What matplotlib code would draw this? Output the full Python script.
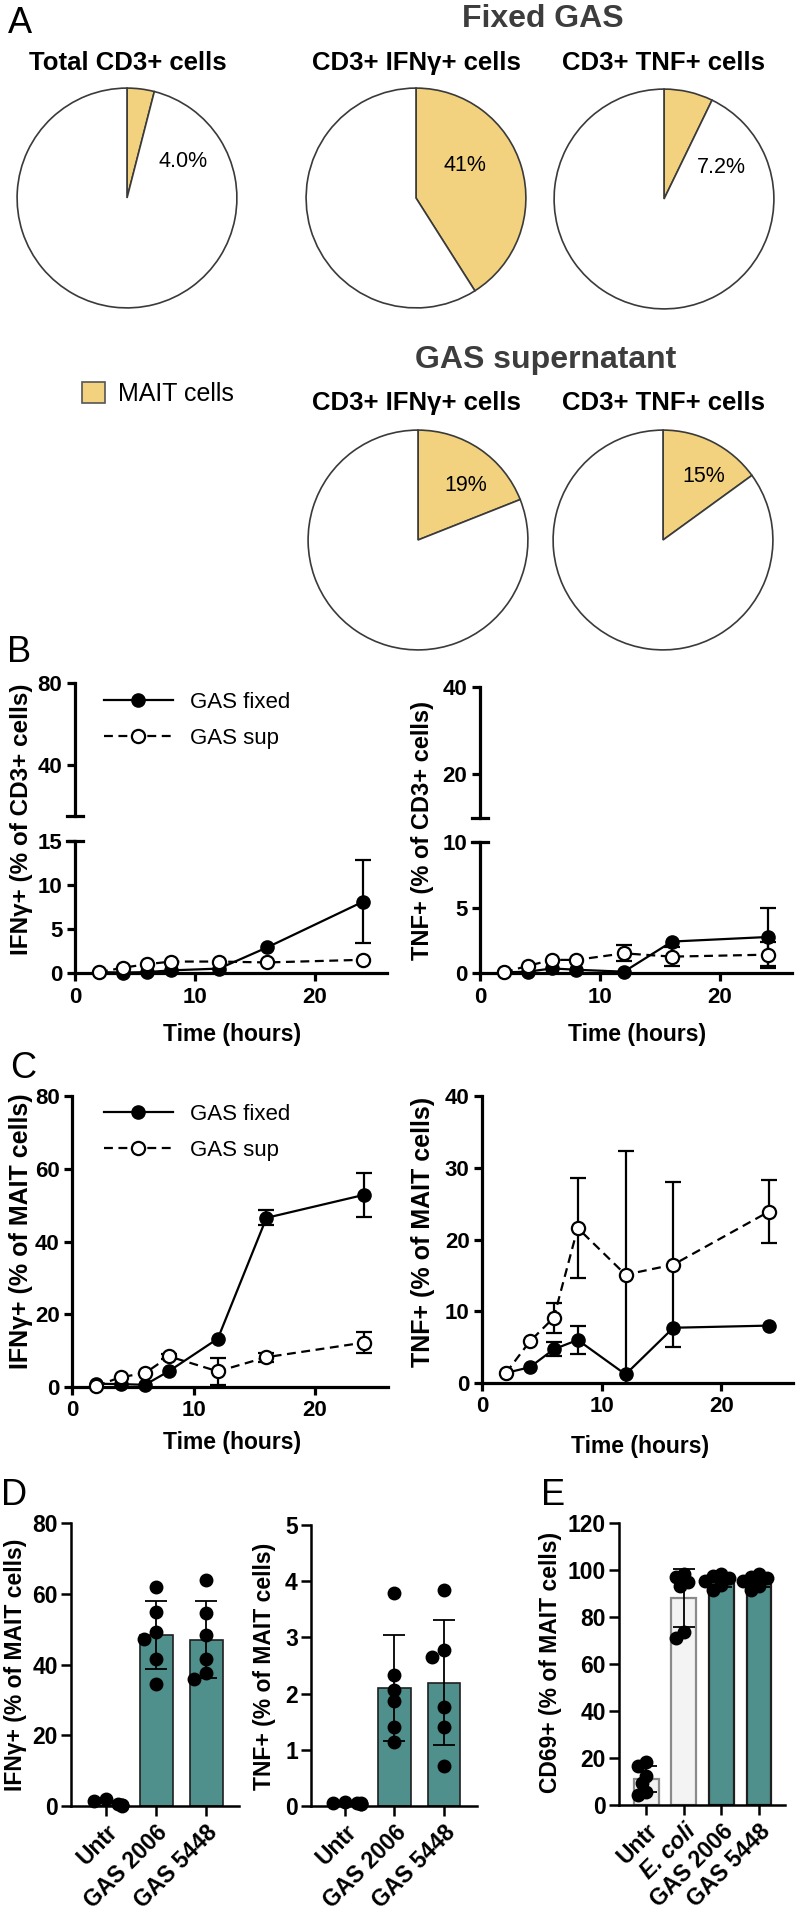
import numpy as np
import matplotlib
matplotlib.use('Agg')
import matplotlib.pyplot as plt
from matplotlib.patches import Patch

W, H = 796, 1912

plt.rcParams['font.family'] = ['Liberation Sans', 'DejaVu Sans']
plt.rcParams['font.weight'] = 'bold'
plt.rcParams['axes.labelweight'] = 'bold'

# ---------------- data ----------------
# A: share of MAIT cells among CD3+ populations
pie_titles = ['Total CD3+ cells', 'CD3+ IFNγ+ cells', 'CD3+ TNF+ cells',
              'CD3+ IFNγ+ cells', 'CD3+ TNF+ cells']
mait_pct = [4.0, 41, 7.2, 19, 15]
mait_lbl = ['4.0%', '41%', '7.2%', '19%', '15%']

# B / C: time course (hours)
hours = [2, 4, 6, 8, 12, 16, 24]

b_ifn_fixed = [0.1, 0.05, 0.1, 0.3, 0.5, 2.9, 8.1]
b_ifn_fixed_err = [0, 0, 0, 0, 0, 0, 4.7]
b_ifn_sup = [0.1, 0.6, 1.0, 1.3, 1.3, 1.2, 1.5]
b_ifn_sup_err = [0, 0, 0, 0, 0, 0, 0]

b_tnf_fixed = [0.05, 0.1, 0.35, 0.25, 0.1, 2.4, 2.75]
b_tnf_fixed_err = [0, 0, 0, 0, 0, 0, 2.25]
b_tnf_sup = [0.05, 0.55, 1.0, 1.0, 1.5, 1.25, 1.4]
b_tnf_sup_err = [0, 0, 0, 0, 0.6, 0.7, 1.0]

c_ifn_fixed = [0.9, 0.8, 0.6, 4.4, 13.3, 46.5, 52.8]
c_ifn_fixed_err = [0, 0, 0, 0, 0, 2.1, 6.0]
c_ifn_sup = [0.3, 2.7, 3.8, 8.4, 4.3, 8.2, 12.2]
c_ifn_sup_err = [0, 0, 0, 0.8, 3.7, 1.2, 2.9]

c_tnf_fixed = [1.4, 2.2, 4.7, 6.0, 1.2, 7.7, 8.0]
c_tnf_fixed_err = [0, 0, 1.0, 2.0, 0, 0, 0]
c_tnf_sup = [1.4, 5.8, 9.1, 21.6, 15.1, 16.5, 23.9]
c_tnf_sup_err = [0, 0, 2.1, 7.0, 17.3, 11.5, 4.4]

# D / E: individual donors
d_groups = ['Untr', 'GAS 2006', 'GAS 5448']
d_ifn = [[2.0, 1.4, 0.6, 0.3, 0.2, 0.1],
         [61.9, 54.8, 49.3, 47.2, 41.6, 34.6],
         [63.9, 54.6, 48.4, 41.6, 37.5, 35.9]]
d_tnf = [[0.07, 0.06, 0.05, 0.05, 0.04, 0.03],
         [3.79, 2.33, 2.07, 1.87, 1.41, 1.13],
         [3.85, 2.77, 2.66, 1.77, 1.41, 0.72]]

e_groups = ['Untr', 'E. coli', 'GAS 2006', 'GAS 5448']
e_cd69 = [[18.2, 16.5, 12.5, 9.5, 5.5, 4.2],
          [98.2, 97.2, 95.0, 93.0, 73.8, 70.9],
          [98.5, 97.5, 96.5, 95.5, 93.5, 91.5],
          [98.5, 97.0, 96.5, 95.5, 93.0, 91.5]]

yellow = '#F2D27F'
teal = '#4F8F8C'

fig = plt.figure(figsize=(W / 100, H / 100), dpi=100)


def px_axes(x0, y0, x1, y1):
    # axes from pixel box (top-left origin)
    ax = fig.add_axes([x0 / W, 1 - y1 / H, (x1 - x0) / W, (y1 - y0) / H])
    ax.patch.set_alpha(0)
    return ax


def ftext(x, y, s, **kw):
    return fig.text(x / W, 1 - y / H, s, **kw)


# ---------------- A: pies ----------------
pie_centres = [(127, 198), (416, 198), (664, 199), (418, 540), (663, 540)]
lbl_pos = [(183, 167), (465, 171), (721, 173), (466, 491), (704, 482)]
title_pos = [(128, 70), (416, 70), (663, 70), (416, 410), (663, 410)]
R = 111
for i, (cx, cy) in enumerate(pie_centres):
    ax = px_axes(cx - R, cy - R, cx + R, cy + R)
    ax.pie([mait_pct[i], 100 - mait_pct[i]], colors=[yellow, 'white'],
           startangle=90, counterclock=False, radius=1,
           wedgeprops=dict(edgecolor='#3a3a3a', linewidth=1.2))
    ax.set_xlim(-1.01, 1.01)
    ax.set_ylim(-1.01, 1.01)
    ftext(*lbl_pos[i], mait_lbl[i], ha='center', va='baseline', fontsize=15.5, weight='normal')
    ftext(*title_pos[i], pie_titles[i], ha='center', va='baseline', fontsize=18.5)

ftext(543, 27, 'Fixed GAS', ha='center', va='baseline', fontsize=23, color='#3d3d3d')
ftext(546, 368, 'GAS supernatant', ha='center', va='baseline', fontsize=23, color='#3d3d3d')

fig.legend(handles=[Patch(facecolor=yellow, edgecolor='#555555', linewidth=1.2)],
           labels=['MAIT cells'], loc='center left', bbox_to_anchor=(82 / W, 1 - 394 / H),
           frameon=False, borderpad=0, borderaxespad=0, handlelength=0.92, handleheight=0.9,
           handletextpad=0.5, prop={'size': 18, 'weight': 'normal'})

# panel letters
for letter, (x, y) in zip('ABCDE', [(8, 33), (7, 662), (10, 1078), (1, 1505), (541, 1505)]):
    ftext(x, y, letter, ha='left', va='baseline', fontsize=26, weight='normal')


# ---------------- B / C: time courses ----------------
def style_axes(ax, lw=2.3, length=6, size=16, pad=3):
    for s in ['top', 'right']:
        ax.spines[s].set_visible(False)
    ax.spines['left'].set_linewidth(lw)
    ax.spines['bottom'].set_linewidth(lw)
    ax.tick_params(width=lw, length=length, labelsize=size, pad=pad)


def bold_ticks(ax):
    for t in ax.get_xticklabels() + ax.get_yticklabels():
        t.set_fontweight('bold')


def time_lines(ax, fixed, fixed_err, sup, sup_err):
    ax.plot(hours, fixed, color='black', lw=1.6, marker='o', ms=9.5, mfc='black',
            mec='black', clip_on=False, zorder=4, label='GAS fixed')
    ax.plot(hours, sup, color='black', lw=1.6, ls=(0, (4, 2.5)), marker='o', ms=9.5,
            mfc='white', mec='black', mew=1.6, clip_on=False, zorder=5, label='GAS sup')
    for y, e in ((fixed, fixed_err), (sup, sup_err)):
        idx = [i for i, v in enumerate(e) if v > 0]
        if idx:
            ax.errorbar([hours[i] for i in idx], [y[i] for i in idx],
                        yerr=[e[i] for i in idx], fmt='none', ecolor='black',
                        elinewidth=1.6, capsize=6, capthick=1.6, zorder=3)


def place_ylabel(ax, text, x, y, size):
    ax.set_ylabel(text, fontsize=size, va='center', ha='center')
    ax.yaxis.set_label_coords(x / W, 1 - y / H, transform=fig.transFigure)


def place_xlabel(ax, text, x, y, size=16.5):
    ax.set_xlabel(text, fontsize=size, va='center', ha='center')
    ax.xaxis.set_label_coords(x / W, 1 - y / H, transform=fig.transFigure)


def break_mark(ax, y_axes, half):
    ax.plot([-half, half], [y_axes, y_axes], color='black', lw=2.3,
            transform=ax.transAxes, clip_on=False)


def broken_panel(x0, x1, up_box, lo_box, up_lim, lo_lim, up_ticks, lo_ticks,
                 fixed, fixed_err, sup, sup_err):
    up = px_axes(x0, up_box[0], x1, up_box[1])
    lo = px_axes(x0, lo_box[0], x1, lo_box[1])
    # all values sit below the break, so the data go on the lower segment
    time_lines(lo, fixed, fixed_err, sup, sup_err)
    for ax, lim, ticks in ((up, up_lim, up_ticks), (lo, lo_lim, lo_ticks)):
        style_axes(ax)
        ax.set_xlim(0, 26)
        ax.set_ylim(*lim)
        ax.set_yticks(ticks)
    up.spines['bottom'].set_visible(False)
    up.set_xticks([])
    lo.set_xticks([0, 10, 20])
    lo.tick_params(axis='x', pad=4)
    half = 8 / (x1 - x0)
    break_mark(up, 0, half)
    break_mark(lo, 1, half)
    bold_ticks(up)
    bold_ticks(lo)
    return up, lo


bl_up, bl_lo = broken_panel(75, 387, (683, 816), (841, 973), (15, 80), (0, 15),
                            [40, 80], [0, 5, 10, 15],
                            b_ifn_fixed, b_ifn_fixed_err, b_ifn_sup, b_ifn_sup_err)
place_ylabel(bl_lo, 'IFNγ+ (% of CD3+ cells)', 22, 819, 17.5)
place_xlabel(bl_lo, 'Time (hours)', 232, 1034)

br_up, br_lo = broken_panel(480, 792, (687, 818), (842, 973), (10, 40), (0, 10),
                            [20, 40], [0, 5, 10],
                            b_tnf_fixed, b_tnf_fixed_err, b_tnf_sup, b_tnf_sup_err)
place_ylabel(br_lo, 'TNF+ (% of CD3+ cells)', 423, 831, 17)
place_xlabel(br_lo, 'Time (hours)', 637, 1035)

cl = px_axes(72, 1096, 388, 1387)
time_lines(cl, c_ifn_fixed, c_ifn_fixed_err, c_ifn_sup, c_ifn_sup_err)
style_axes(cl)
cl.set_xlim(0, 26)
cl.set_ylim(0, 80)
cl.set_yticks([0, 20, 40, 60, 80])
cl.set_xticks([0, 10, 20])
bold_ticks(cl)
place_ylabel(cl, 'IFNγ+ (% of MAIT cells)', 21, 1231, 18)
place_xlabel(cl, 'Time (hours)', 232, 1442)

cr = px_axes(482, 1096, 793, 1383)
time_lines(cr, c_tnf_fixed, c_tnf_fixed_err, c_tnf_sup, c_tnf_sup_err)
style_axes(cr)
cr.set_xlim(0, 26)
cr.set_ylim(0, 40)
cr.set_yticks([0, 10, 20, 30, 40])
cr.set_xticks([0, 10, 20])
bold_ticks(cr)
place_ylabel(cr, 'TNF+ (% of MAIT cells)', 423, 1232, 18)
place_xlabel(cr, 'Time (hours)', 640, 1447)

leg_kw = dict(loc='upper left', frameon=False, borderpad=0, borderaxespad=0,
              handlelength=3.1, handletextpad=0.77, labelspacing=0.68, numpoints=1,
              prop={'size': 16, 'weight': 'normal'})
h, l = bl_lo.get_legend_handles_labels()
fig.legend(h, l, bbox_to_anchor=(104 / W, 1 - 692 / H), **leg_kw)
h, l = cl.get_legend_handles_labels()
fig.legend(h, l, bbox_to_anchor=(104 / W, 1 - 1104 / H), **leg_kw)


# ---------------- D / E: bars with donors ----------------
def swarm(vals, xc, px_x, px_y, d=11.0, step=4.0):
    placed, xs = [], []
    for v in vals:
        for k in [0, -1, 1, -2, 2, -3, 3, -4, 4]:
            x = xc + k * step / px_x
            if all(np.hypot((x - px) * px_x, (v - py) * px_y) >= d for px, py in placed):
                break
        placed.append((x, v))
        xs.append(x)
    return xs


def bar_panel(ax, groups, samples, faces, edges, elw, ylim, yticks, xlim, gap=11.0):
    x = np.arange(len(groups))
    ax.set_xlim(*xlim)
    ax.set_ylim(*ylim)
    means = [np.mean(s) for s in samples]
    sds = [np.std(s, ddof=1) for s in samples]
    ax.bar(x, means, width=0.66, color=faces, edgecolor=edges, linewidth=elw, zorder=2)
    ax.errorbar(x, means, yerr=sds, fmt='none', ecolor='black', elinewidth=1.3,
                capsize=8, capthick=1.3, zorder=3)
    bb = ax.get_window_extent()
    px_x = bb.width / (xlim[1] - xlim[0])
    px_y = bb.height / (ylim[1] - ylim[0])
    for xi, s in zip(x, samples):
        ax.plot(swarm(s, xi, px_x, px_y, d=gap), s, 'o', color='black', ms=9, zorder=4,
                clip_on=False)
    style_axes(ax, lw=1.8, length=7.5, size=16.5, pad=2)
    ax.set_yticks(yticks)
    ax.set_xticks(x, groups, rotation=45, ha='right', va='top', rotation_mode='anchor',
                  fontsize=16.5)
    ax.tick_params(axis='x', pad=3)
    bold_ticks(ax)


dl = px_axes(71, 1523, 239, 1806)
bar_panel(dl, d_groups, d_ifn, teal, '#1f1f1f', 1.2, (0, 80), [0, 20, 40, 60, 80], (-0.7, 2.66))
place_ylabel(dl, 'IFNγ+ (% of MAIT cells)', 16, 1665, 16.5)

dr = px_axes(311, 1525, 477, 1806)
bar_panel(dr, d_groups, d_tnf, teal, '#1f1f1f', 1.2, (0, 5), [0, 1, 2, 3, 4, 5], (-0.69, 2.67))
place_ylabel(dr, 'TNF+ (% of MAIT cells)', 265, 1666, 16.5)

ea = px_axes(619, 1523, 785, 1805)
bar_panel(ea, e_groups, e_cd69, ['#F3F3F3', '#F3F3F3', teal, teal],
          ['#8a8a8a', '#8a8a8a', '#1f1f1f', '#1f1f1f'], 1.6,
          (0, 120), [0, 20, 40, 60, 80, 100, 120], (-0.72, 3.69), gap=8.0)
ea.get_xticklabels()[1].set_style('italic')
place_ylabel(ea, 'CD69+ (% of MAIT cells)', 550, 1662, 16.5)

fig.savefig('out.png', dpi=100)
